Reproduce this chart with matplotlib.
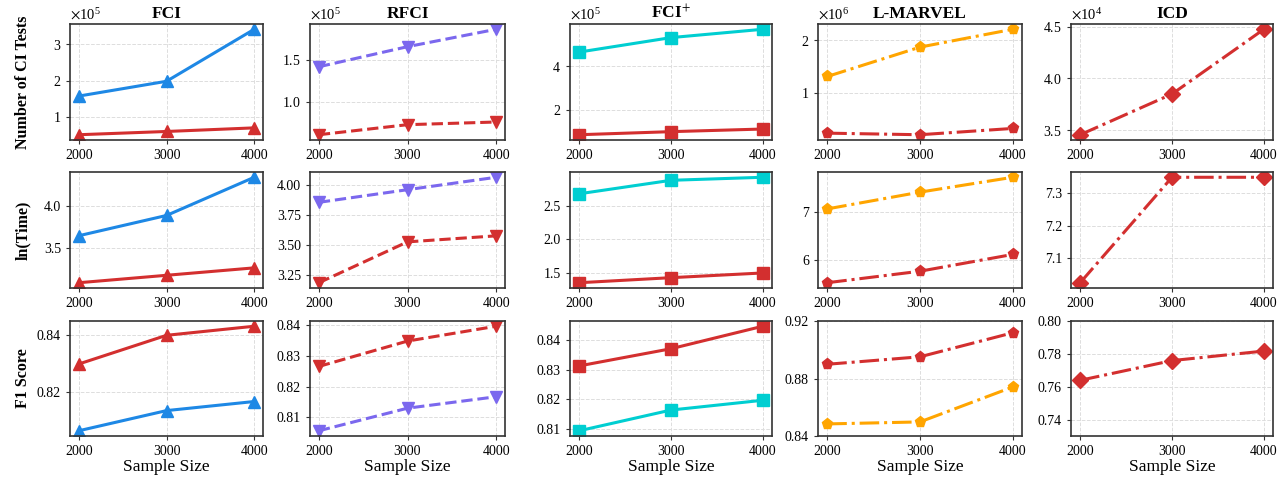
import matplotlib
matplotlib.use('Agg')
import matplotlib.pyplot as plt
from matplotlib.ticker import MultipleLocator

plt.rcParams['font.family'] = ['Liberation Serif', 'DejaVu Serif']
plt.rcParams['mathtext.fontset'] = 'stix'

sample_sizes = [2000, 3000, 4000]
methods = ['FCI', 'RFCI', 'FCI$^{+}$', 'L-MARVEL', 'ICD']
metrics = ['Number of CI Tests', 'ln(Time)', 'F1 Score']

# baseline version (first colour) of each method, None where absent
ci_base = [[1.57e5, 1.98e5, 3.42e5], [1.416e5, 1.656e5, 1.864e5],
           [4.64e5, 5.30e5, 5.68e5], [1.31e6, 1.87e6, 2.21e6], None]
ci_ours = [[0.50e5, 0.59e5, 0.69e5], [0.604e5, 0.724e5, 0.756e5],
           [0.87e5, 1.01e5, 1.13e5], [0.23e6, 0.20e6, 0.32e6],
           [3.458e4, 3.85e4, 4.474e4]]

time_base = [[3.648, 3.888, 4.34], [3.856, 3.961, 4.064],
             [2.675, 2.875, 2.92], [7.07, 7.42, 7.73], None]
time_ours = [[3.092, 3.18, 3.268], [3.189, 3.528, 3.578],
             [1.355, 1.43, 1.50], [5.53, 5.77, 6.12],
             [7.024, 7.35, 7.35]]

f1_base = [[0.8064, 0.8135, 0.8167], [0.8057, 0.8130, 0.8167],
           [0.8094, 0.8164, 0.8197], [0.8484, 0.8498, 0.8741], None]
f1_ours = [[0.8299, 0.8400, 0.8432], [0.8265, 0.8347, 0.8395],
           [0.8313, 0.8371, 0.8447], [0.8899, 0.8951, 0.9118],
           [0.7639, 0.7759, 0.7817]]

base_colors = ['#1E88E5', '#7B68EE', '#00CED1', '#FFA500', None]
ours_color = '#D32F2F'
markers = ['^', 'v', 's', 'p', 'D']
styles = ['-', '--', '-', '-.', '-.']

tick_steps = [[1e5, 0.5e5, 2e5, 1e6, 0.5e4],
              [0.5, 0.25, 0.5, 1, 0.1],
              [0.02, 0.01, 0.01, 0.04, 0.02]]

col_left = [70, 310, 570, 818, 1071]
col_width = [193, 195, 202, 204, 202]
row_top = [24, 172, 321]
row_height = [116, 116, 115]
W, H = 1288, 478

fig, axes = plt.subplots(3, 5, figsize=(12.88, 4.78), dpi=100)

rows = [(ci_base, ci_ours), (time_base, time_ours), (f1_base, f1_ours)]
for r, (base, ours) in enumerate(rows):
    for c in range(5):
        ax = axes[r, c]
        ax.set_position([col_left[c] / W, 1 - (row_top[r] + row_height[r]) / H,
                         col_width[c] / W, row_height[r] / H])
        if base[c] is not None:
            ax.plot(sample_sizes, base[c], color=base_colors[c], marker=markers[c],
                    linestyle=styles[c], lw=2.2, ms=8)
        ax.plot(sample_sizes, ours[c], color=ours_color, marker=markers[c],
                linestyle=styles[c], lw=2.2, ms=8)
        ax.set_xticks(sample_sizes)
        ax.yaxis.set_major_locator(MultipleLocator(tick_steps[r][c]))
        ax.grid(True, linestyle='--', color='#dddddd', lw=0.7)
        ax.tick_params(labelsize=10, length=3, color='#333333')
        for sp in ax.spines.values():
            sp.set_color('#333333')
            sp.set_linewidth(1.2)
        if r == 0:
            ax.ticklabel_format(style='sci', axis='y', scilimits=(0, 0), useMathText=True)
            ax.yaxis.get_offset_text().set_fontsize(10.5)
            ax.set_title(methods[c], fontsize=12.5, fontweight='bold', pad=4)
        if r == 2:
            ax.set_xlabel('Sample Size', fontsize=12.5, labelpad=1)
        if c == 0:
            ax.set_ylabel(metrics[r], fontsize=11.5, fontweight='bold')
            ax.yaxis.set_label_coords(-0.20, 0.5)

axes[2, 3].set_ylim(0.84, 0.92)
axes[2, 4].set_ylim(0.73, 0.80)

fig.savefig('out.png', dpi=100)
